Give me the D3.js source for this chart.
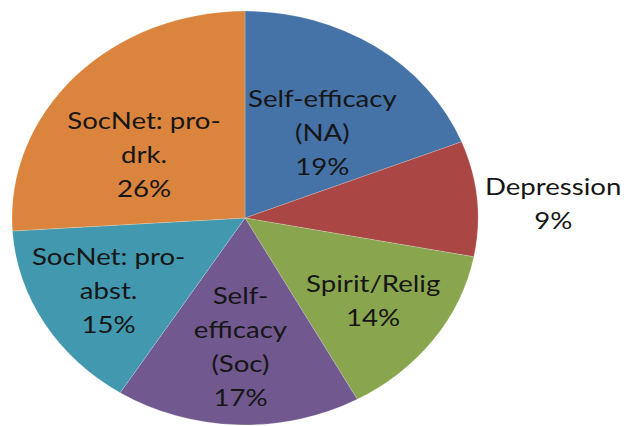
<!DOCTYPE html>
<html>
<head>
<meta charset="utf-8">
<script src="https://cdn.jsdelivr.net/npm/d3@7"></script>
<style>
  body { margin: 0; background: #fff; }
  svg { display: block; }
  text { font-family: "Lato", "Open Sans", sans-serif; }
</style>
</head>
<body>
<div id="chart"></div>
<script>
"use strict";

// data, clockwise from 12 o'clock
const categories = ["Self-efficacy (NA)", "Depression", "Spirit/Relig", "Self-efficacy (Soc)", "SocNet: pro-abst.", "SocNet: pro-drk."];
const values = [19, 9, 14, 17, 15, 26];
const labelLines = [
  ["Self-efficacy", "(NA)"],
  ["Depression"],
  ["Spirit/Relig"],
  ["Self-", "efficacy", "(Soc)"],
  ["SocNet: pro-", "abst."],
  ["SocNet: pro-", "drk."]
];
const colors = ["#4572A7", "#AA4643", "#89A54E", "#71588F", "#4198AF", "#DB843D"];

// label placement: fraction of radius along the mid angle, plus a small nudge
const labelRadius = [0.56, 1.32, 0.68, 0.62, 0.68, 0.53];
const labelNudge = [[4, 11], [2, 12], [0, 0], [0, 1], [0, 1], [-11, 12]];

let width = 635, height = 426;
let cx = 245, cy = 218, r = 233, ky = 0.888;
let lineH = 34;
let stretch = 1.2; // text in the picture is stretched sideways like the pie

let svg = d3.select("#chart").append("svg")
  .attr("width", width)
  .attr("height", height);

let data = categories.map((c, i) => ({
  name: c, value: values[i], lines: labelLines[i], color: colors[i],
  lr: labelRadius[i], nudge: labelNudge[i]
}));

let pie = d3.pie().sort(null).value(d => d.value);
let arc = d3.arc().innerRadius(0).outerRadius(r);

let arcs = pie(data);

let pieGroup = svg.append("g")
  .attr("transform", `translate(${cx},${cy}) scale(1,${ky})`);

pieGroup.selectAll("path").data(arcs)
  .enter().append("path")
  .attr("d", arc)
  .style("fill", d => d.data.color)
  .style("stroke", "rgba(255,255,255,0.35)")
  .style("stroke-width", 0.6);

let labels = svg.append("g").attr("class", "labels");

labels.selectAll("text").data(arcs)
  .enter().append("text")
  .each(function(d) {
    let mid = (d.startAngle + d.endAngle) / 2;
    let rr = r * d.data.lr;
    let x = cx + rr * Math.sin(mid) + d.data.nudge[0];
    let y = cy - rr * ky * Math.cos(mid) + d.data.nudge[1];
    let lines = d.data.lines.concat([Math.round(d.value) + "%"]);
    let y0 = -(lines.length - 1) * lineH / 2;
    let t = d3.select(this)
      .attr("transform", `translate(${x},${y}) scale(${stretch},1)`)
      .attr("text-anchor", "middle")
      .style("font-size", "23px")
      .style("fill", "#161616");
    lines.forEach((l, i) => {
      t.append("tspan")
        .attr("x", 0)
        .attr("y", y0 + i * lineH)
        .attr("dy", "0.35em")
        .text(l);
    });
  });
</script>
</body>
</html>
